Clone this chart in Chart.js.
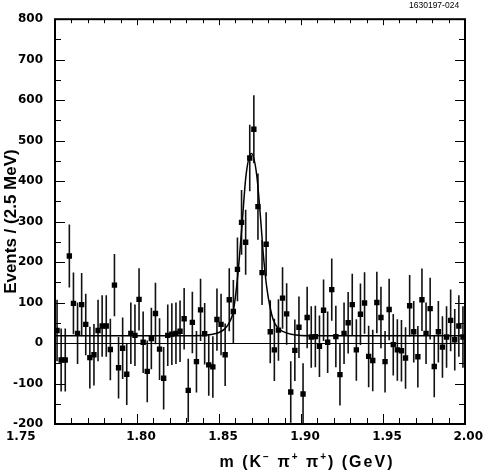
<!DOCTYPE html>
<html>
<head>
<meta charset="utf-8">
<script src="https://cdn.jsdelivr.net/npm/chart.js@4.4.0/dist/chart.umd.min.js"></script>
<style>
  html, body { margin: 0; padding: 0; background: #fff; }
  #wrap { position: relative; width: 485px; height: 472px; }
  #tag {
    position: absolute; top: 0px; left: 409px;
    font: 8.5px "Liberation Sans", Arial, sans-serif; color: #000;
  }
</style>
</head>
<body>
<div id="wrap">
  <canvas id="massChart" width="485" height="472"></canvas>
  <div id="tag">1630197-024</div>
</div>
<script>
// Bin centres (GeV), 2.5 MeV bins
const massBins = [
  1.75125, 1.75375, 1.75625, 1.75875, 1.76125, 1.76375, 1.76625, 1.76875, 1.77125, 1.77375,
  1.77625, 1.77875, 1.78125, 1.78375, 1.78625, 1.78875, 1.79125, 1.79375, 1.79625, 1.79875,
  1.80125, 1.80375, 1.80625, 1.80875, 1.81125, 1.81375, 1.81625, 1.81875, 1.82125, 1.82375,
  1.82625, 1.82875, 1.83125, 1.83375, 1.83625, 1.83875, 1.84125, 1.84375, 1.84625, 1.84875,
  1.85125, 1.85375, 1.85625, 1.85875, 1.86125, 1.86375, 1.86625, 1.86875, 1.87125, 1.87375,
  1.87625, 1.87875, 1.88125, 1.88375, 1.88625, 1.88875, 1.89125, 1.89375, 1.89625, 1.89875,
  1.90125, 1.90375, 1.90625, 1.90875, 1.91125, 1.91375, 1.91625, 1.91875, 1.92125, 1.92375,
  1.92625, 1.92875, 1.93125, 1.93375, 1.93625, 1.93875, 1.94125, 1.94375, 1.94625, 1.94875,
  1.95125, 1.95375, 1.95625, 1.95875, 1.96125, 1.96375, 1.96625, 1.96875, 1.97125, 1.97375,
  1.97625, 1.97875, 1.98125, 1.98375, 1.98625, 1.98875, 1.99125, 1.99375, 1.99625, 1.99875
];

// Events per bin
const events = [
   31, -42, -42, 215,  98,  24,  95,  46, -36, -29,
   31,  42,  42, -16, 143, -61, -13, -77,  24,  19,
  108,   2, -70,  11,  73, -15, -87,  19,  22,  24,
   29,  60,-117,  51, -46,  82,  23, -54, -59,  58,
   46, -29, 107,  78, 182, 298, 249, 457, 528, 337,
  174, 244,  28, -17,  32, 111,  72,-121, -18,  39,
 -126,  63,  15,  16,  -8,  81,   2, 132,  16, -78,
   24,  50,  95, -17,  71,  99, -33, -43, 100,  63,
  -46,  83,  -4, -17, -19, -37,  92,  28, -34, 107,
   24,  85, -58,  28, -10,  15,  56,   8,  42,  15
];

// Error bar half-lengths
const eventErrors = [
  76, 78, 78, 78, 76, 76, 78, 76, 76, 76,
  76, 76, 76, 76, 77, 76, 76, 76, 76, 76,
  77, 76, 76, 76, 76, 76, 77, 76, 76, 76,
  76, 76, 78, 76, 76, 77, 76, 76, 76, 77,
  76, 77, 78, 78, 79, 80, 80, 82, 84, 82,
  80, 79, 78, 77, 76, 76, 76, 76, 76, 76,
  76, 76, 76, 76, 76, 76, 76, 77, 76, 76,
  76, 76, 76, 76, 76, 76, 76, 76, 76, 76,
  76, 76, 76, 76, 76, 76, 76, 76, 76, 77,
  76, 76, 76, 76, 76, 76, 76, 76, 76, 76
];

// Fit curve
const fitMass = [1.75, 1.835, 1.845, 1.85, 1.8535, 1.8565, 1.8587, 1.8614, 1.864, 1.8665,
  1.8698, 1.873, 1.8755, 1.877, 1.8791, 1.8811, 1.8831, 1.8852, 1.8892, 1.895, 1.905, 2.00];
const fitEvents = [18, 18, 21, 26, 35, 52, 78, 165, 290, 415,
  468, 415, 300, 220, 138, 89, 57, 41, 28, 21, 18, 18];

const xTicks = [1.75, 1.80, 1.85, 1.90, 1.95, 2.00];
const yTicks = [-200, -100, 0, 100, 200, 300, 400, 500, 600, 700, 800];

const labelFont = { family: "'DejaVu Sans', sans-serif", size: 12, weight: "bold" };
const titleFont = { family: "'Liberation Sans', sans-serif", size: 17, weight: "bold" };

// x title pieces: [text, superscript?]
const xTitleParts = [["m (K", false], ["\u2212", true], [" \u03C0", false], ["+", true],
  [" \u03C0", false], ["+", true], [") (GeV)", false]];

// Rahmen, Fehlerbalken, Nulllinie und Striche nach innen
const framePlugin = {
  id: "frame",
  beforeDatasetsDraw(chart) {
    const { ctx, chartArea: a, scales: { x, y } } = chart;
    ctx.save();
    ctx.beginPath();
    ctx.rect(a.left, a.top, a.right - a.left, a.bottom - a.top);
    ctx.clip();
    ctx.strokeStyle = "#111";
    ctx.lineWidth = 1.6;
    ctx.beginPath();
    massBins.forEach((m, i) => {
      const px = x.getPixelForValue(m);
      ctx.moveTo(px, y.getPixelForValue(events[i] + eventErrors[i]));
      ctx.lineTo(px, y.getPixelForValue(events[i] - eventErrors[i]));
    });
    ctx.stroke();
    ctx.strokeStyle = "#000";
    ctx.lineWidth = 1;
    ctx.beginPath();
    const y0 = Math.round(y.getPixelForValue(0)) + 0.5;
    ctx.moveTo(a.left, y0);
    ctx.lineTo(a.right, y0);
    ctx.stroke();
    ctx.restore();
  },
  afterDatasetsDraw(chart) {
    const { ctx, chartArea: a, scales: { x, y } } = chart;
    ctx.save();
    ctx.strokeStyle = "#000";
    ctx.lineWidth = 1;
    ctx.beginPath();
    for (let v = -200; v <= 800; v += 50) {
      const py = Math.round(y.getPixelForValue(v)) + 0.5;
      const len = v % 100 === 0 ? 10 : 6;
      ctx.moveTo(a.left, py); ctx.lineTo(a.left + len, py);
      ctx.moveTo(a.right, py); ctx.lineTo(a.right - len, py);
    }
    for (let k = 0; k <= 25; k++) {
      const px = Math.round(x.getPixelForValue(1.75 + k * 0.01)) + 0.5;
      const major = k % 5 === 0;
      ctx.moveTo(px, a.bottom); ctx.lineTo(px, a.bottom - (major ? 10 : 6));
      ctx.moveTo(px, a.top); ctx.lineTo(px, a.top + (major ? 6 : 4));
    }
    ctx.stroke();
    ctx.lineWidth = 2;
    ctx.strokeRect(a.left, a.top, a.right - a.left, a.bottom - a.top);

    // x tick labels
    ctx.fillStyle = "#000";
    ctx.font = "bold 12px 'DejaVu Sans'";
    ctx.textBaseline = "middle";
    xTicks.forEach((v, i) => {
      let px = x.getPixelForValue(v) + 4;
      ctx.textAlign = "center";
      if (i === 0) { ctx.textAlign = "left"; px = 6; }
      if (i === xTicks.length - 1) { ctx.textAlign = "right"; px = 483; }
      ctx.fillText(v.toFixed(2), px, a.bottom + 13);
    });

    // x title with superscripts
    ctx.textAlign = "left";
    ctx.letterSpacing = "2px";
    const big = "bold 16px 'Liberation Sans', sans-serif";
    const small = "bold 10px 'Liberation Sans', sans-serif";
    let total = 0;
    xTitleParts.forEach(([t, sup]) => { ctx.font = sup ? small : big; total += ctx.measureText(t).width; });
    let cx = 307 - total / 2;
    xTitleParts.forEach(([t, sup]) => {
      ctx.font = sup ? small : big;
      ctx.fillText(t, cx, sup ? 457 : 463);
      cx += ctx.measureText(t).width;
    });
    ctx.restore();
  }
};

function createChart() {
  const ctx = document.getElementById("massChart");

  new Chart(ctx, {
    type: "scatter",
    data: {
      datasets: [
        {
          type: "line",
          data: fitMass.map((m, i) => ({ x: m, y: fitEvents[i] })),
          borderColor: "#000",
          borderWidth: 1.5,
          pointRadius: 0,
          cubicInterpolationMode: "monotone",
          fill: false,
          order: 2
        },
        {
          data: massBins.map((m, i) => ({ x: m, y: events[i] })),
          pointStyle: "rect",
          pointRadius: 3.8,
          backgroundColor: "#000",
          borderWidth: 0,
          order: 1
        }
      ]
    },
    options: {
      responsive: false,
      animation: false,
      devicePixelRatio: 1,
      layout: { padding: { top: 15, right: 20, bottom: 0, left: 0 } },
      plugins: { legend: { display: false }, tooltip: { enabled: false } },
      scales: {
        x: {
          type: "linear",
          min: 1.75,
          max: 2.0,
          afterBuildTicks: s => { s.ticks = xTicks.map(v => ({ value: v })); },
          afterFit: s => { s.height = 48; },
          ticks: { display: false },
          grid: { display: false, drawTicks: false },
          border: { display: false }
        },
        y: {
          min: -200,
          max: 800,
          afterBuildTicks: s => { s.ticks = yTicks.map(v => ({ value: v })); },
          afterFit: s => { s.width = 55; },
          ticks: { font: labelFont, color: "#000", padding: 12 },
          grid: { display: false, drawTicks: false },
          border: { display: false },
          title: {
            display: true,
            text: "Events / (2.5 MeV)",
            font: titleFont,
            color: "#000",
            padding: { top: 1, bottom: 0 }
          }
        }
      }
    },
    plugins: [framePlugin]
  });
}

createChart();
</script>
</body>
</html>
